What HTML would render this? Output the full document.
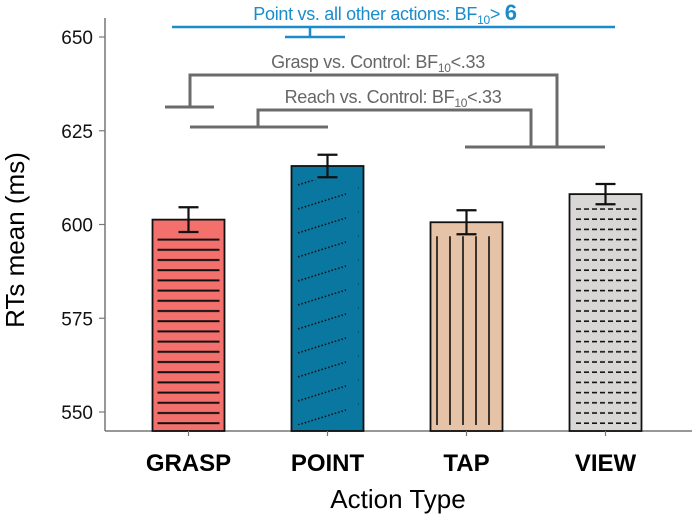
<!DOCTYPE html>
<html><head><meta charset="utf-8"><style>
html,body{margin:0;padding:0;background:#fff;}
svg{display:block;font-family:"Liberation Sans",Arial,sans-serif;}
</style></head><body>
<svg id="chart" width="694" height="518" viewBox="0 0 694 518">
<defs>
 <pattern id="pGrasp" patternUnits="userSpaceOnUse" width="12" height="10.2"><line x1="0" y1="5" x2="12" y2="5" stroke="#111" stroke-width="2"/></pattern>
 <pattern id="pPoint" patternUnits="userSpaceOnUse" width="70" height="24"><line x1="8" y1="20" x2="66" y2="2" stroke="#111" stroke-width="1.6" stroke-dasharray="1.5,2"/></pattern>
 <pattern id="pTap" patternUnits="userSpaceOnUse" width="13" height="10"><line x1="8" y1="0" x2="8" y2="10" stroke="#111" stroke-width="1.6"/></pattern>
 <pattern id="pView" patternUnits="userSpaceOnUse" width="8" height="10.2"><line x1="0" y1="5" x2="5" y2="5" stroke="#111" stroke-width="1.6"/></pattern>
</defs>
<g id="plot"></g>
</svg>
<script>
const categories = ["GRASP","POINT","TAP","VIEW"];
const means = [601.3, 615.6, 600.6, 608.1];
const errors = [3.3, 3.0, 3.2, 2.7];
const yTicks = [550, 575, 600, 625, 650];
const colors = ["#f4706c","#0a77a0","#e6c2a6","#d9d6d6"];
const patterns = ["pGrasp","pPoint","pTap","pView"];

const NS="http://www.w3.org/2000/svg";
const g=document.getElementById('plot');
const y0=412, y1=37, vMin=550, vMax=650, axisY=431;
function yScale(v){return y0-(v-vMin)*(y0-y1)/(vMax-vMin);}
const xLeft=105, bandStart=119, band=139, barW=72;
function xCenter(i){return bandStart+band*(i+0.5);}
function mk(tag,attrs,parent){const e=document.createElementNS(NS,tag);for(const k in attrs)e.setAttribute(k,attrs[k]);(parent||g).appendChild(e);return e;}

let ya=mk('line',{x1:xLeft,y1:18,x2:xLeft,y2:axisY,stroke:'#777','stroke-width':1.5});


let xa=mk('line',{x1:xLeft,y1:axisY,x2:692,y2:axisY,stroke:'#777','stroke-width':1.5});



yTicks.forEach(t=>{
 const y=yScale(t);
 const tk=mk('line',{x1:xLeft-6,y1:y,x2:xLeft,y2:y,stroke:'#777','stroke-width':1.2});
 
 
 const tx=mk('text',{x:xLeft-12,y:y+7,'text-anchor':'end','font-size':19,fill:'#111'});
 tx.textContent=t;
 
 
});

categories.forEach((c,i)=>{
 const cx=xCenter(i), top=yScale(means[i]);
 const x=cx-barW/2;
 const r=mk('rect',{x:x,y:top,width:barW,height:axisY-top,fill:colors[i],stroke:'#111','stroke-width':1.8});
 
 
 const pt=mk('rect',{x:x+5,y:top+14,width:barW-10,height:axisY-top-20,fill:'url(#'+patterns[i]+')'});
 
 
 const eTop=yScale(means[i]+errors[i]), eBot=yScale(means[i]-errors[i]);
 const eb=mk('path',{d:`M${cx},${eTop}V${eBot}M${cx-10},${eTop}H${cx+10}M${cx-10},${eBot}H${cx+10}`,stroke:'#111','stroke-width':2.2,fill:'none'});
 
 
 const tk=mk('line',{x1:cx,y1:axisY,x2:cx,y2:axisY+5,stroke:'#777','stroke-width':1.2});
 
 
 const lb=mk('text',{x:cx,y:471,'text-anchor':'middle','font-size':24,'font-weight':'bold',fill:'#000'});
 lb.textContent=c;
 
 
});
</script>
<svg style="position:absolute;left:0;top:0" width="694" height="518">
 <text x="24" y="240" transform="rotate(-90 24 240)" text-anchor="middle" font-size="26" fill="#000" font-family="Liberation Sans, sans-serif">RTs mean (ms)</text>
 <text x="398" y="508" text-anchor="middle" font-size="26" fill="#000" font-family="Liberation Sans, sans-serif">Action Type</text>
 <g stroke="#1a8ccc" stroke-width="2.5" fill="none">
  <path d="M172,27H615M310,27V37M285,37H345"/>
 </g>
 <text x="385" y="20" text-anchor="middle" font-size="18" letter-spacing="-0.3" fill="#1a8ccc" font-family="Liberation Sans, sans-serif">Point vs. all other actions: BF<tspan font-size="12" dy="4">10</tspan><tspan dy="-4">&gt; </tspan><tspan font-size="22" font-weight="bold">6</tspan></text>
 <g stroke="#6b6b6b" stroke-width="3" fill="none">
  <path d="M165,107H214M190,107V75H557V147M465,147H605"/>
 </g>
 <text x="378" y="68" text-anchor="middle" font-size="18" letter-spacing="-0.3" fill="#666" font-family="Liberation Sans, sans-serif">Grasp vs. Control: BF<tspan font-size="12" dy="4">10</tspan><tspan dy="-4">&lt;.33</tspan></text>
 <g stroke="#6b6b6b" stroke-width="3" fill="none">
  <path d="M190,127H328M258,127V110H531V147"/>
 </g>
 <text x="393" y="103" text-anchor="middle" font-size="18" letter-spacing="-0.3" fill="#666" font-family="Liberation Sans, sans-serif">Reach vs. Control: BF<tspan font-size="12" dy="4">10</tspan><tspan dy="-4">&lt;.33</tspan></text>
</svg>
</body></html>
